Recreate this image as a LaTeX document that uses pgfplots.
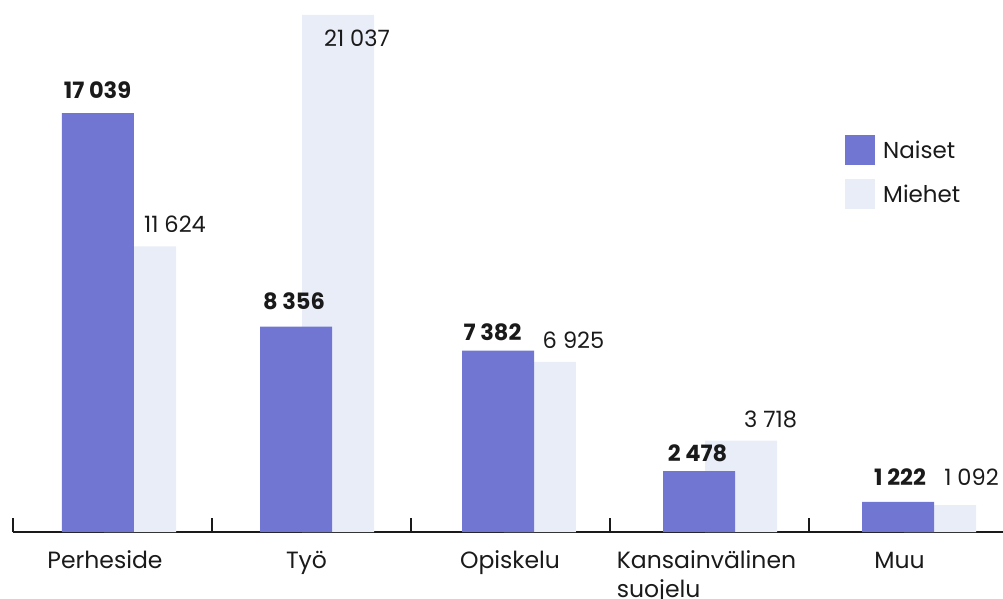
\documentclass[border=0pt]{standalone}
\usepackage{pgfplots}
\pgfplotsset{compat=1.18}
\usepackage{fontspec}
\setmainfont{Poppins}
\definecolor{naiset}{HTML}{7176D2}
\definecolor{miehet}{HTML}{E9EDF8}
\definecolor{txt}{HTML}{1A1A1A}
% x: bar centre position (category units), y: value, lab: printed label, dx/dy: label offset (pt)
\pgfplotstableread{
x        y      lab      dx     dy
0.1382   11624  11~624   35     -1
1.1332   21037  21~037   19     -47
2.1482   6925   6~925    33.5   -2
3.1583   3718   3~718    29.5   -2
4.1583   1092   1~092    31.5   5
}\miehet
\pgfplotstableread{
x        y      lab      dx     dy
-0.0729  17039  17~039   -0.5   0
0.9221   8356   8~356    -2     2
1.9372   7382   7~382    -5.5   -5
2.9472   2478   2~478    -1.5   -5
3.9472   1222   1~222    2      1
}\naiset
\begin{document}
\begin{tikzpicture}
\begin{axis}[
  at={(13pt,66pt)}, anchor=south west,
  scale only axis, width=995pt, height=532pt,
  xmin=-0.5, xmax=4.5, ymin=0, ymax=21647,
  ybar, bar width=72pt,
  axis y line=none, axis x line*=bottom,
  axis line style={-, line width=1.3pt, color=txt},
  xtick={-0.0377,0.9749,1.9975,2.9849,3.9548},
  xticklabels={Perheside,Työ,Opiskelu,{\begin{tabular}[t]{@{}l@{}}Kansainvälinen\\suojelu\end{tabular}},Muu},
  major tick length=0pt,
  minor xtick={-0.5,0.5,1.5,2.5,3.5},
  minor tick length=14pt, tick align=inside,
  minor tick style={line width=1.3pt, color=txt},
  x tick label style={anchor=north, inner sep=0pt,
    text height=17pt, yshift=-19pt,
    font=\fontsize{23.5}{29}\selectfont, text=txt},
  legend style={at={(rel axis cs:0.8362,0.746)}, anchor=north west,
    draw=none, fill=none, inner sep=0pt, row sep=14pt,
    font=\fontsize{23}{26}\selectfont, text=txt,
    nodes={inner sep=0pt},
    /tikz/every odd column/.style={column sep=8pt}},
  legend cell align=left,
  legend image code/.code={\fill[#1] (0pt,-14.7pt) rectangle (30pt,15.3pt);},
  reverse legend,
  point meta=explicit symbolic,
  nodes near coords={\pgfplotspointmeta},
  visualization depends on={\thisrow{dx} \as \ldx},
  visualization depends on={\thisrow{dy} \as \ldy},
  every node near coord/.append style={anchor=base, text=txt,
    xshift=\ldx pt, yshift=15pt+\ldy pt,
    font=\fontsize{22.5}{26}\selectfont},
]
\addplot[fill=miehet, draw=none, bar shift=0pt]
  table[x=x, y=y, meta=lab] {\miehet};
\addlegendentry{Miehet}
\addplot[fill=naiset, draw=none, bar shift=0pt,
  every node near coord/.append style={font=\fontsize{22.5}{26}\selectfont\bfseries}]
  table[x=x, y=y, meta=lab] {\naiset};
\addlegendentry{Naiset}
\end{axis}
\pgfresetboundingbox
\path[use as bounding box] (0,0) rectangle (1003pt,598pt);
\end{tikzpicture}
\end{document}
